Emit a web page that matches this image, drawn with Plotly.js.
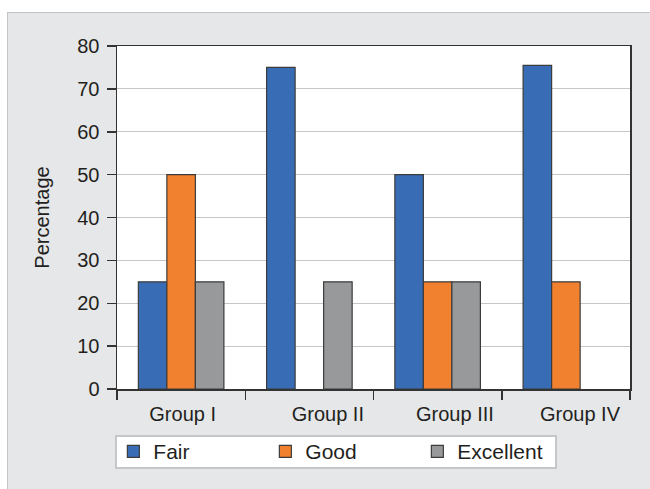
<!DOCTYPE html>
<html><head><meta charset="utf-8">
<script src="https://cdn.plot.ly/plotly-3.0.1.min.js"></script>
<style>
html,body{margin:0;padding:0;background:#fff;width:650px;height:489px;overflow:hidden}
#panel{position:absolute;left:7px;top:12px;width:643px;height:477px;background:#e6e7e8;border-top:1px solid #c2c4c6;border-left:1px solid #c2c4c6}
#chart{position:absolute;left:0;top:0;width:643px;height:477px}
</style></head>
<body>
<div id="panel"><div id="chart"></div></div>
<script>
const groups = ["Group I", "Group II", "Group III", "Group IV"];
const fair = [25, 75, 50, 75.5];
const good = [50, null, 25, 25];
const excellent = [25, 25, 25, null];
const seriesNames = ["Fair", "Good", "Excellent"];
const yTicks = [0, 10, 20, 30, 40, 50, 60, 70, 80];

const colors = ["#386cb5", "#f2812f", "#97999b"];
const xpos = groups.map((g, i) => i);
const font = "Liberation Sans, Arial, sans-serif";

const traces = [fair, good, excellent].map((vals, k) => ({
  type: "bar",
  name: seriesNames[k],
  x: xpos,
  y: vals,
  hoverinfo: "y+name",
  textposition: "none",
  marker: {color: colors[k], line: {color: "#3c3c3c", width: 1.2}}
}));

const labelPos = [0.012, 1.144, 2.135, 3.11];
const boundaries = [-0.5, 0.5, 1.5, 2.5, 3.5];

const layout = {
  width: 643, height: 477,
  margin: {l: 109, r: 21, t: 33, b: 101},
  paper_bgcolor: "#e6e7e8",
  plot_bgcolor: "#ffffff",
  barmode: "group",
  bargap: 0.333,
  bargroupgap: 0,
  font: {family: font, color: "#231f20", size: 20},
  xaxis: {
    type: "linear",
    range: [-0.5, 3.5],
    tickmode: "array",
    tickvals: labelPos,
    ticktext: groups,
    ticks: "",
    showgrid: false,
    zeroline: false,
    showline: true, mirror: true,
    linecolor: "#333333", linewidth: 1.5,
    tickfont: {size: 20, family: font, color: "#231f20"},
    ticklabelstandoff: 6,
    minor: {tickmode: "array", tickvals: boundaries, ticks: "outside", ticklen: 9, tickcolor: "#333333", tickwidth: 1.5, showgrid: false}
  },
  yaxis: {
    range: [0, 80],
    tickmode: "array",
    tickvals: yTicks,
    ticks: "outside", ticklen: 9, tickcolor: "#333333", tickwidth: 1.5,
    showgrid: true, gridcolor: "#c6c6c6", gridwidth: 1.2,
    zeroline: false,
    showline: true, mirror: true,
    linecolor: "#333333", linewidth: 1.5,
    tickfont: {size: 20, family: font, color: "#231f20"},
    ticklabelstandoff: 3,
    title: {text: "Percentage", font: {size: 20, family: font, color: "#231f20"}, standoff: 22}
  },
  shapes: [{
    type: "rect", xref: "paper", yref: "paper",
    xsizemode: "pixel", ysizemode: "pixel",
    xanchor: 0, yanchor: 0,
    x0: -1, x1: 439, y0: -47, y1: -79,
    fillcolor: "#ffffff",
    line: {color: "#c4c6c8", width: 2},
    layer: "above"
  }],
  showlegend: true,
  legend: {
    orientation: "h",
    x: -0.011, xanchor: "left",
    y: -0.117, yanchor: "top",
    bgcolor: "rgba(0,0,0,0)",
    bordercolor: "rgba(0,0,0,0)", borderwidth: 2,
    font: {size: 21, family: font, color: "#231f20"},
    entrywidth: 107, entrywidthmode: "pixels",
    traceorder: "normal"
  }
};

Plotly.newPlot("chart", traces, layout, {displayModeBar: false, staticPlot: true});
</script>
</body></html>
